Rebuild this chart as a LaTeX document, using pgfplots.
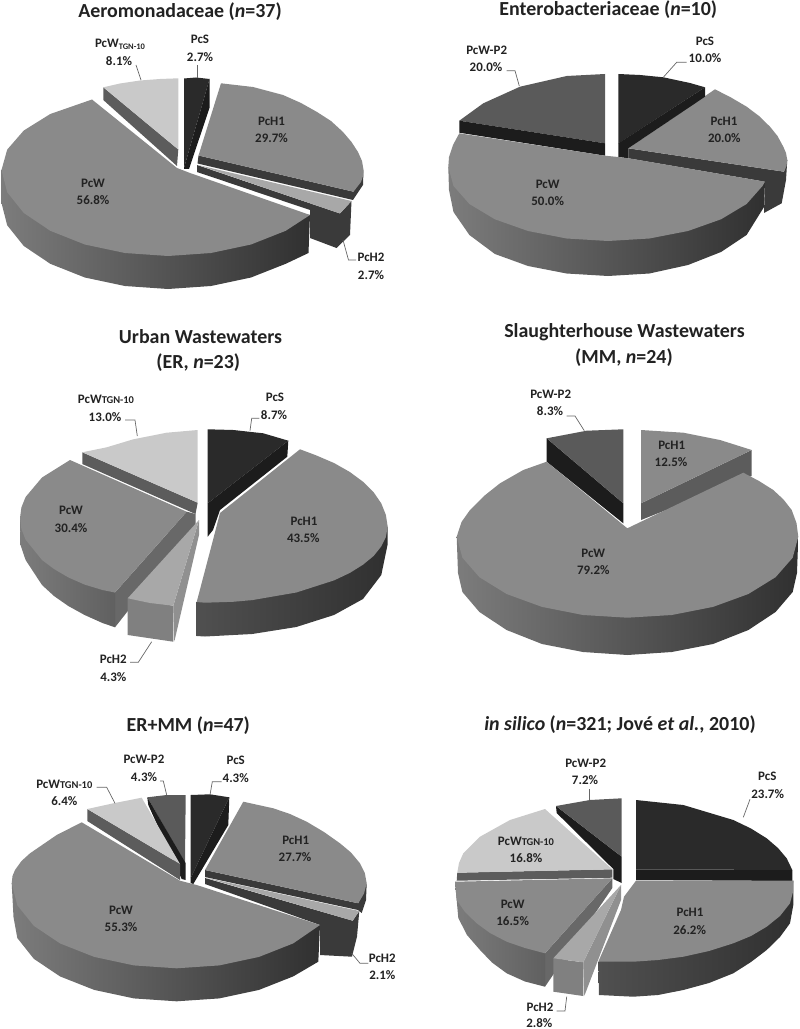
\documentclass[border=0pt]{standalone}
\usepackage{pgfplots}
\usepackage{fontspec}
\setmainfont{Carlito}
\pgfplotsset{compat=1.18}
\definecolor{cS}{HTML}{2A2A2A}
\definecolor{cSd}{HTML}{1C1C1C}
\definecolor{cH}{HTML}{8A8A8A}
\definecolor{cHd}{HTML}{3A3A3A}
\definecolor{cL}{HTML}{A8A8A8}
\definecolor{cT}{HTML}{C9C9C9}
\definecolor{cTd}{HTML}{5C5C5C}
\definecolor{cP}{HTML}{5A5A5A}
\definecolor{cF}{HTML}{808080}
\definecolor{cR}{HTML}{909090}
\definecolor{cW}{HTML}{686868}
\definecolor{sL}{HTML}{7C7C7C}
\definecolor{sM}{HTML}{606060}
\definecolor{sD}{HTML}{505050}
\definecolor{sR}{HTML}{303030}
\definecolor{ctxt}{HTML}{222222}
\definecolor{clead}{HTML}{666666}

% one filled piece of a pie, outline in pixels of the picture
\newcommand{\slice}[2]{\addplot[fill=#1,draw=none] coordinates {#2} --cycle;}
\newcommand{\grad}[3]{\addplot[left color=#1,right color=#2,draw=none] coordinates {#3} --cycle;}
\newcommand{\leader}[1]{\addplot[clead,line width=0.7pt] coordinates {#1};}
\newcommand{\lab}[3]{\node[font=\fontsize{13}{15}\selectfont\bfseries,text=ctxt,inner sep=0pt] at (axis cs:#1,#2) {#3};}
\newcommand{\ttl}[3]{\node[font=\fontsize{20}{22}\selectfont\bfseries,text=ctxt,inner sep=0pt] at (axis cs:#1,#2) {#3};}
\newcommand{\tgn}{{\fontsize{10.5}{12}\selectfont TGN-10}}

\begin{document}
\begin{tikzpicture}
\begin{axis}[
    scale only axis,
    width=800bp,
    height=1029bp,
    xmin=0, xmax=800,
    ymin=0, ymax=1029,
    y dir=reverse,
    hide axis,
    clip=false
  ]
  % hide axis leaves no frame, so hold the page at the full size
  \path (axis cs:0,0) rectangle (axis cs:800,1029);

  %% Aeromonadaceae
  \slice{cS}{(184,78.5)(196,77.5)(209.5,79)(184,168)}
  \slice{cSd}{(209.5,79)(209.5,108)(189,169)(184,169)(184,168)}
  \slice{cTd}{(103.3,87.3)(178.3,149.5)(177,166)(103.3,100)}
  \slice{cT}{(103.3,87.3)(120,83.5)(140,80.5)(160,79)(178.3,78.3)(178.3,149.5)}
  \slice{cHd}{(197,165)(197,172)(310,210)(310,238)(336.5,248)(350,235)(351.5,201)(340,213.5)}
  \slice{cL}{(198,165)(351.5,201)(340,213.5)}
  \slice{cHd}{(198.5,155.5)(353.5,191.7)(363.5,170)(363,185)(353,200)(197.5,163.5)}
  \slice{cH}{(198.5,155.5)(221,83.3)(253,87)(283,95)(301,103)(317,112)(331,121)(343,132)(351.5,142)(358,152)(362,161)(363.5,170)(363,176)(361,182)(353.5,191.7)}
  \grad{sL}{sR}{(1.5,170)(1.5,203)(7.2,225.3)(23.8,246)(50.3,263.8)(84.8,277.5)(124.9,286)(168,289)(211,286)(251,277.5)(285.7,263.8)(308.5,253)(310,215)}
  \slice{cH}{(92,99.5)(50.3,114)(23.8,130.5)(7.2,149.6)(1.5,170)(7.2,192.3)(23.8,213)(50.3,230.8)(84.8,244.5)(124.9,253)(168,256)(211,253)(251,244.5)(285.7,230.8)(310,215)(190,173)(177,168)}
  \leader{(197.5,65)(197.5,78)}
  \leader{(136,65)(141,80)}
  \leader{(343,240)(348.5,260)(356,260)}
  \lab{200}{39}{PcS}\lab{200}{57}{2.7\%}
  \lab{120}{44}{PcW\raisebox{-2pt}{\fontsize{8.5}{10}\selectfont TGN-10}}\lab{119}{61}{8.1\%}
  \lab{271.5}{121}{PcH1}\lab{271.5}{138}{29.7\%}
  \lab{93}{183}{PcW}\lab{93}{200}{56.8\%}
  \lab{371}{257}{PcH2}\lab{371}{275}{2.7\%}
  \ttl{180}{11.7}{Aeromonadaceae (\textit{n}=37)}

  %% Enterobacteriaceae
  \slice{cHd}{(628.3,148.3)(784,171.7)(787.3,160)(786,180)(781.7,203.3)(764,213)(765,181.7)(628.3,158.3)}
  \slice{cH}{(628.3,148.3)(715,89.3)(731,97.5)(746.7,106.7)(759,116)(770,126.7)(777.5,136)(783.3,146.7)(786,153)(787.3,160)(786.5,166)(784,171.7)}
  \slice{cS}{(618.3,74)(640,75)(663.3,77.3)(690,83)(705,87.3)(618.3,143.5)}
  \slice{cSd}{(705,87.3)(705,96.7)(628.3,148.3)(628.3,158.3)(618.3,157)(618.3,143.3)}
  \slice{cP}{(605,74)(566.7,76)(520,86.7)(483.3,103.3)(459.3,120.7)(605,143.3)}
  \slice{cSd}{(459.3,120.7)(459.3,132.7)(605,155.7)(605,143.3)}
  \grad{sL}{sR}{(448.3,167)(449,190)(453.5,212)(469.4,235)(494.9,254)(528,266)(566.6,273.5)(608,276)(649.4,273.5)(688,265)(721,252)(746.6,235)(764,207)(765,181.7)}
  \slice{cH}{(459.3,133.3)(453,145)(449,157)(448.3,167)(453.5,186)(469.4,204)(494.9,219.3)(528,231)(566.6,238.5)(608,241)(649.4,238.5)(688,231)(721,219.3)(746.6,204)(762.5,186)(765,181.7)(630,158.5)(618,157)(605,155.7)}
  \leader{(663.3,77.3)(676.7,62.3)(686.7,62.3)}
  \leader{(506.7,70.7)(515,70.7)(519.3,86)}
  \lab{705}{41}{PcS}\lab{705}{58.3}{10.0\%}
  \lab{486.7}{50}{PcW-P2}\lab{486}{66.7}{20.0\%}
  \lab{724}{121.3}{PcH1}\lab{724.3}{137.7}{20.0\%}
  \lab{547.7}{184}{PcW}\lab{547.7}{201}{50.0\%}
  \ttl{608.3}{10}{Enterobacteriaceae (\textit{n}=10)}

  %% Urban Wastewaters
  \slice{cS}{(207.7,429.3)(233.3,430)(263.3,433.3)(288.3,440.7)(207.7,503.3)}
  \slice{cSd}{(288.3,440.7)(287.3,456.7)(220,510)(213,530)(207.7,536.7)(207.7,503.3)}
  \grad{sD}{sR}{(196.7,602)(196.7,636)(205,636.5)(252.2,634)(296.3,627)(334,615)(363,599)(381.3,575)(387.5,545)(387.5,526.7)}
  \slice{cH}{(300,449.3)(316,455.3)(334,463)(349.7,471.9)(363,481.7)(373.6,492.2)(381.3,503.4)(385.9,515)(387.7,526.7)(385.9,537)(381.3,546.4)(373.6,556)(363,564.7)(349.7,573)(334,580.4)(296.3,592.5)(252.2,600.1)(233,601.8)(205,602.7)(196.7,602)(213,540)(220,513)}
  \slice{cTd}{(82.3,452.3)(82.3,464)(195.5,514)(197.7,502.7)}
  \slice{cT}{(197.7,430)(166.7,432.7)(133.3,439.3)(106.7,447.3)(82.3,452.3)(197.7,502.7)}
  \slice{cW}{(186.7,511.7)(195.7,514)(195.7,525)(115,627.3)(115,592.5)}
  \grad{sL}{sM}{(20,518)(20.5,545)(25.6,560)(42,585)(54,596)(68.3,606)(84.6,615)(102.5,623)(115,627.3)(115,592.5)}
  \slice{cH}{(70,460)(42,477.5)(25.6,497)(21.4,507.4)(20,518)(21.4,529)(25.6,539.7)(42,560)(54,569)(68.3,577.4)(84.6,584.6)(102.5,590)(115,592.5)(186.7,511.7)}
  \slice{cR}{(199,520)(199,535)(174.3,641.7)(173.3,605.7)}
  \slice{cF}{(127.7,598.3)(127.7,635)(173.3,641.7)(173.3,605.7)}
  \slice{cL}{(199,520)(127.7,598.3)(150,603)(173.3,605.7)}
  \leader{(250,430.7)(251.7,418.3)(259.3,418.3)}
  \leader{(125,420)(135,420)(137.3,436)}
  \leader{(130,662.3)(138.3,662.3)(151.7,641.7)}
  \lab{275}{397.3}{PcS}\lab{274}{415}{8.7\%}
  \lab{106}{399.3}{PcW\tgn}\lab{105}{416.7}{13.0\%}
  \lab{304}{521}{PcH1}\lab{303.3}{538.3}{43.5\%}
  \lab{71}{510.7}{PcW}\lab{71}{527.7}{30.4\%}
  \lab{113.3}{659.3}{PcH2}\lab{113.3}{676.7}{4.3\%}
  \ttl{200.5}{336.7}{Urban Wastewaters}
  \ttl{198.3}{362.5}{(ER, \textit{n}=23)}

  %% Slaughterhouse Wastewaters
  \slice{cSd}{(546.7,438.3)(546.7,461.7)(623.3,523.3)(623.3,503.3)}
  \slice{cP}{(623.3,429.3)(586.7,430.7)(546.7,438.3)(623.3,503.3)}
  \slice{cTd}{(751.7,450)(751.7,476)(641,520)(641,503.3)}
  \slice{cH}{(641,430)(683.3,432.7)(720,440)(751.7,450)(641,503.3)}
  \grad{sL}{sR}{(456.7,536.7)(458,573)(462.4,592)(479.4,612)(506.6,630)(542,644)(583,652)(627.5,655)(671.8,652)(713,644)(748.4,630)(775.6,612)(792.7,592)(797,573)(798.3,536.7)}
  \slice{cH}{(546.7,461.7)(523.3,470)(500,483.3)(484,496)(470,510)(461.5,522)(456.7,536.7)(462.4,557.7)(479.4,577.2)(506.6,594)(542,606.9)(583,615)(627.5,617.7)(671.8,615)(713,606.9)(748.4,594)(775.6,577.2)(792.7,557.7)(798.3,536.7)(796.5,523)(791.7,510)(783.5,499.5)(773.3,490)(759,481)(743.3,472.7)(627.3,528.3)}
  \leader{(566.7,416)(575,416)(584.3,430.7)}
  \lab{550.7}{394.3}{PcW-P2}\lab{550}{411.3}{8.3\%}
  \lab{671.7}{445.3}{PcH1}\lab{671}{462.3}{12.5\%}
  \lab{593.3}{553.3}{PcW}\lab{593.3}{570}{79.2\%}
  \ttl{624.5}{332.3}{Slaughterhouse Wastewaters}
  \ttl{624}{357.3}{(MM, \textit{n}=24)}

  %% ER+MM
  \slice{cS}{(190.7,795)(210,794.3)(229.3,797.3)(190.7,878)}
  \slice{cSd}{(229.3,797.3)(228.3,825)(193.3,884)(190.7,883)(190.7,878)}
  \slice{cP}{(185.7,795)(166.7,795)(147.3,797.3)(185,863.3)}
  \slice{cSd}{(147.3,797.3)(148.3,805)(181.7,879)(185.7,880)(185.7,863.3)}
  \slice{cTd}{(87.3,809)(87.3,821)(180,880)(180,864)}
  \slice{cT}{(87.3,809)(113.3,803.3)(141.7,797.7)(180,864)}
  \slice{cHd}{(205,878)(205,884)(320,925)(320,955)(352,956.7)(357,936.7)(359.3,911)(352.7,920.7)}
  \slice{cL}{(205.7,877.7)(359.3,911)(352.7,920.7)}
  \slice{cHd}{(205,870)(358.3,903.3)(366.7,883.3)(366,900)(361.7,913)(358,910)(205,877)}
  \slice{cH}{(243.3,801.7)(273.3,808.3)(290,814)(306.7,821.7)(324,832)(340,843.3)(351,852.5)(360,863.3)(364.8,873)(366.7,883.3)(364,893.5)(358.3,903.3)(205,870)}
  \grad{sL}{sR}{(11.7,883.3)(13.5,917)(17.3,938)(33.8,958.8)(60,976.4)(94.2,989.9)(133.9,998.4)(176.6,1001.3)(219.3,998.4)(259,989.9)(293.2,976.4)(318.3,961.7)(320,925)}
  \slice{cH}{(81.7,822.3)(56.7,835)(30,853.3)(21.5,861)(15,870)(12.5,876)(11.7,883.3)(17.3,905.3)(33.8,925.8)(60,943.4)(94.2,956.9)(133.9,965.4)(176.6,968.3)(219.3,965.4)(259,956.9)(293.2,943.4)(320,925)(196.7,885)(180,880.7)}
  \leader{(210,795)(212.3,781.7)(221.7,781.7)}
  \leader{(160,781)(163.3,781)(166.7,795)}
  \leader{(96.7,787.3)(106.7,787.3)(115,803.3)}
  \leader{(351.7,953.3)(360,963.3)(368.3,963.3)}
  \lab{235.7}{760.3}{PcS}\lab{235.7}{777.7}{4.3\%}
  \lab{144}{759.7}{PcW-P2}\lab{144}{776.7}{4.3\%}
  \lab{64.3}{784}{PcW\tgn}\lab{64.3}{801.3}{6.4\%}
  \lab{295.7}{840}{PcH1}\lab{295}{857}{27.7\%}
  \lab{121}{910}{PcW}\lab{121}{927.3}{55.3\%}
  \lab{382.3}{958.3}{PcH2}\lab{382.3}{975.3}{2.1\%}
  \ttl{188.3}{726}{ER+MM (\textit{n}=47)}

  %% in silico
  \slice{cSd}{(636,869.3)(792.3,870)(792.3,881)(636,880)}
  \slice{cS}{(636,800)(683.3,805)(733.3,820)(751,828.5)(766.7,838.3)(778,848)(786.7,858.3)(792.3,870)(636,869.3)}
  \grad{sD}{sR}{(598.3,961.7)(599,995)(633.3,996.7)(658,995)(683.3,990)(709,983)(733.3,973.3)(751,962)(766.7,950)(780,937)(790,923.3)(793.3,905)(793.3,880.7)}
  \slice{cH}{(636,880.7)(793.3,880.7)(793,892)(790,903.3)(780,916)(766.7,926.7)(751,936)(733.3,943.3)(709,951)(683.3,956.7)(658,960)(633.3,961.7)(598.3,961.7)(621,910)(624,896.7)}
  \slice{cSd}{(556,806)(556.7,813)(613.3,869)(613.3,879)(621.7,883)(621.7,856.7)}
  \slice{cP}{(621.7,798.3)(590,800)(556,806)(621.7,856.7)}
  \slice{cTd}{(457.3,872.7)(456.7,880.7)(612.3,877.7)(612.3,869.3)}
  \slice{cT}{(545,809)(510,820)(480,836.7)(463.3,853.3)(459,863)(457.3,872.7)(612.3,869.3)}
  \slice{cW}{(612.3,878.3)(612.3,888)(545,986.7)(545,953.3)}
  \grad{sL}{sM}{(455,881.7)(458.3,918)(467,935)(480,950)(492,962.5)(506.7,973.3)(525,981.5)(545,986.7)(545,953.3)}
  \slice{cH}{(455,881.7)(612.3,878.3)(545,953.3)(525,948)(506.7,941.7)(490,933)(476.7,923.3)(465,912)(456.7,900)}
  \slice{cR}{(621,885)(621,900)(584.3,996)(583.3,962.3)}
  \slice{cF}{(553.3,958.3)(553.3,991.7)(583.3,996)(583.3,962.3)}
  \slice{cL}{(621,885)(553.3,958.3)(583.3,962.3)}
  \leader{(589.3,789)(589.3,800)}
  \leader{(750,799.3)(743.3,817.3)}
  \leader{(556.7,1011)(565,1011)(566.7,996.7)}
  \lab{585.7}{763.3}{PcW-P2}\lab{585}{780.3}{7.2\%}
  \lab{767.3}{776.7}{PcS}\lab{767.7}{793.7}{23.7\%}
  \lab{526}{841}{PcW\tgn}\lab{526}{857.7}{16.8\%}
  \lab{512.7}{904.3}{PcW}\lab{512.7}{921.3}{16.5\%}
  \lab{690}{912.7}{PcH1}\lab{689.7}{930}{26.2\%}
  \lab{540}{1007}{PcH2}\lab{539.3}{1023}{2.8\%}
  \ttl{620}{724.3}{\textit{in silico} (\textit{n}=321; Jov\'e \textit{et al.}, 2010)}
\end{axis}
\end{tikzpicture}
\end{document}
